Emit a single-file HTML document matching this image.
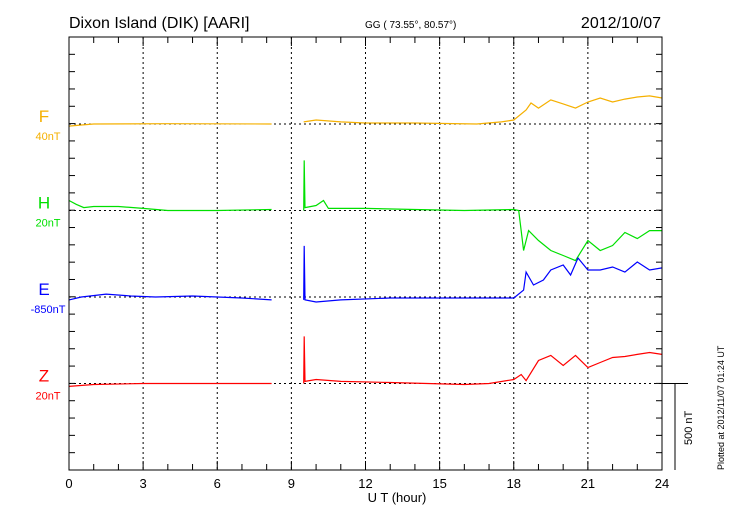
<!DOCTYPE html>
<html><head><meta charset="utf-8"><style>
html,body{margin:0;padding:0;background:#fff;}
svg{display:block;font-family:"Liberation Sans",sans-serif;}
</style></head><body>
<svg id="c" width="730" height="520" viewBox="0 0 730 520">
<text x="69" y="28" font-size="16">Dixon Island (DIK)  [AARI]</text>
<text x="365" y="28" font-size="10">GG ( 73.55°,  80.57°)</text>
<text x="661" y="28" font-size="16" text-anchor="end">2012/10/07</text>
<text x="397" y="502" font-size="13" text-anchor="middle">U T (hour)</text>
<text transform="translate(724,470) rotate(-90)" font-size="9">Plotted at 2012/11/07 01:24 UT</text>
<g id="grid"></g><g id="series"></g><g id="axes"></g>
</svg>
<script>
const tF=[0,0.5,1,4,8.2,null,9.5,10,11,12,14,16.5,17.5,18,18.5,18.7,19,19.5,20,20.5,21,21.5,22,22.5,23,23.5,24];
const vF=[-12,-6,0,2,0,null,12,23,12,6,6,0,12,23,81,121,92,139,116,92,127,150,127,144,156,162,150];
const tH=[0,0.3,0.6,1,2,3,4,6,8.2,null,9.5,9.52,9.55,10,10.3,10.5,12,14,16,18,18.2,18.4,18.6,19,19.5,20,20.5,21,21.5,22,22.5,23,23.5,24];
const vH=[58,35,17,23,23,12,0,0,6,null,0,289,17,29,58,12,12,6,0,6,0,-231,-116,-173,-231,-260,-289,-173,-231,-202,-127,-162,-116,-116];
const tE=[0,0.5,1.5,2.5,3.5,5,6,7,8.2,null,9.5,9.52,9.55,10,11,13,15,18,18.4,18.5,18.8,19.2,19.5,20,20.3,20.6,21,21.5,22,22.5,23,23.5,24];
const vE=[-17,0,17,6,0,6,0,-6,-17,null,-17,295,-17,-29,-17,-6,-6,-6,40,144,69,98,156,185,127,225,156,156,173,144,202,156,168];
const tZ=[0,1,3,8.2,null,9.5,9.52,9.55,10,11,13,16,17,18,18.3,18.5,19,19.5,20,20.5,21,21.5,22,22.5,23,23.5,24];
const vZ=[-17,-6,0,0,null,0,272,12,23,12,6,-6,0,23,52,17,133,162,104,162,92,121,150,156,168,179,168];
const xTicks=[0,3,6,9,12,15,18,21,24];
const compNames=["F","H","E","Z"];
const compBases=["40nT","20nT","-850nT","20nT"];

const NS="http://www.w3.org/2000/svg";
const L=69,R=662,T=37,B=470,U=17.32;
const x=h=>L+(R-L)*h/24;
const bases=[124,210.5,297,383.5];
const y=(v,i)=>bases[i]-v*U/100;
const colors=["#f5b000","#00e000","#0000ff","#ff0000"];
function mk(tag,attrs,parent){const e=document.createElementNS(NS,tag);for(const k in attrs)e.setAttribute(k,attrs[k]);parent.appendChild(e);return e;}
const grid=document.getElementById('grid'),ser=document.getElementById('series'),ax=document.getElementById('axes');
xTicks.forEach(h=>{if(h>0&&h<24){const l=mk('line',{x1:x(h),x2:x(h),y1:T,y2:B,stroke:'#000','stroke-width':1,'stroke-dasharray':'2,3'},grid);

}});
bases.forEach(b=>{const l=mk('line',{x1:L,x2:R,y1:b,y2:b,stroke:'#000','stroke-width':1,'stroke-dasharray':'2,3'},grid);

});
const data=[[tF,vF],[tH,vH],[tE,vE],[tZ,vZ]];
const snames=['f-series','h-series','e-series','z-series'];
data.forEach((d,i)=>{let p='',pen=false;d[0].forEach((t,j)=>{if(t===null){pen=false;return;}p+=(pen?'L':'M')+x(t).toFixed(1)+','+y(d[1][j],i).toFixed(1);pen=true;});
const e=mk('path',{d:p,fill:'none',stroke:colors[i],'stroke-width':1.2},ser);


const t1=mk('text',{x:44,y:bases[i]-2,'font-size':17,fill:colors[i],'text-anchor':'middle'},ax);t1.textContent=compNames[i];


const t2=mk('text',{x:48,y:bases[i]+16,'font-size':11,fill:colors[i],'text-anchor':'middle'},ax);t2.textContent=compBases[i];

});
const fr=mk('rect',{x:L,y:T,width:R-L,height:B-T,fill:'none',stroke:'#000','stroke-width':1},ax);


for(let h=0;h<=24;h++){const len=h%3===0?9:6;
mk('line',{x1:x(h),x2:x(h),y1:B,y2:B-len,stroke:'#000'},ax);mk('line',{x1:x(h),x2:x(h),y1:T,y2:T+len,stroke:'#000'},ax);}
for(let k=1;k<25;k++){const yy=T+k*U;if(yy>=B)break;mk('line',{x1:L,x2:L+6,y1:yy,y2:yy,stroke:'#000'},ax);mk('line',{x1:R,x2:R-6,y1:yy,y2:yy,stroke:'#000'},ax);}
xTicks.forEach(h=>{const t=mk('text',{x:x(h),y:488,'font-size':13,'text-anchor':'middle'},ax);t.textContent=h;

});
mk('line',{x1:R,x2:688,y1:383.5,y2:383.5,stroke:'#000'},ax);
const sb=mk('line',{x1:675,x2:675,y1:383.5,y2:B,stroke:'#000'},ax);


const st=mk('text',{transform:'translate(692,445) rotate(-90)','font-size':11},ax);st.textContent='500 nT';


</script>
</body></html>
